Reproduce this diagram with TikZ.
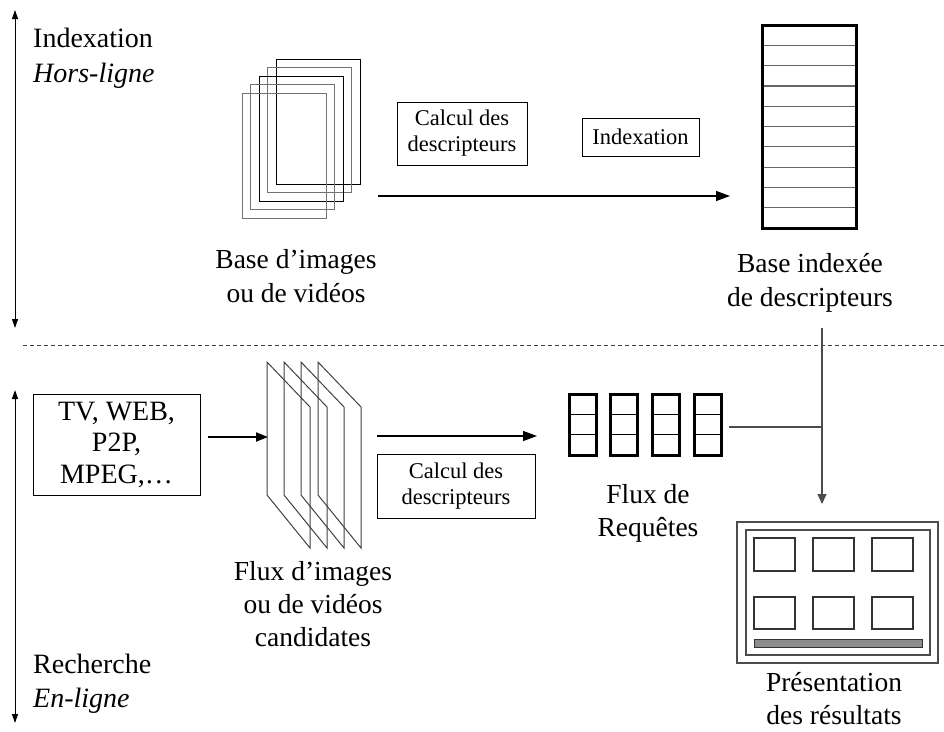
\documentclass[tikz,border=0pt]{standalone}
\usepackage{fontspec}
\setmainfont{Liberation Serif}
\usetikzlibrary{arrows.meta}

\begin{document}
\begin{tikzpicture}[x=1pt,y=-1pt,
  lbl/.style={font=\fontsize{27.5}{34}\selectfont, anchor=base, inner sep=0pt},
  side/.style={font=\fontsize{28}{34}\selectfont, anchor=base west, inner sep=0pt},
  txtbox/.style={draw, line width=0.9pt, font=\fontsize{22.5}{26}\selectfont, align=center, inner sep=0pt},
  flow/.style={line width=1.3pt, -{Triangle[length=14pt,width=10pt]}},
  span/.style={line width=1pt, {Triangle[length=9pt,width=6pt]}-{Triangle[length=9pt,width=6pt]}},
  frameA/.style={draw=black!55, line width=1pt},
  frameB/.style={draw=black, line width=1pt},
  slant/.style={draw=black!75, line width=1pt},
  cell/.style={draw=black, line width=3pt},
  link/.style={draw=black!70, line width=1.2pt}
]
\useasboundingbox (0,0) rectangle (944,731);

% ---- phase markers ----
\coordinate (ut) at (15,10);
\coordinate (ub) at (15,328);
\draw[span] (ut) -- (ub);
\node[side] (idx) at (33,47) {Indexation};
\node[side] (hl) at (33,82) {\itshape Hors-ligne};

\coordinate (lt) at (15,390);
\coordinate (lb) at (15,723);
\draw[span] (lt) -- (lb);
\node[side] (rech) at (33,673) {Recherche};
\node[side] (el) at (33,707) {\itshape En-ligne};

\coordinate (dl) at (23,345);
\coordinate (dr) at (944,345);
\draw[black!75, line width=1pt, dash pattern=on 4pt off 3pt] (dl) -- (dr);

% ---- offline: image base (stack of frames) ----
\foreach \i/\st in {4/frameB,3/frameA,2/frameB,1/frameA,0/frameA}{
  \draw[\st] ({242+8.5*\i},{93-8.5*\i}) rectangle ++(84,125);
}
\node[lbl] (baseimgA) at (296,268) {Base d’images};
\node[lbl] (baseimgB) at (296,302) {ou de vidéos};

\node[txtbox, minimum width=130pt, minimum height=63pt] (calc1) at (462,133.5) {Calcul des\\descripteurs};
\node[txtbox, minimum width=117pt, minimum height=38pt] (indx) at (640.5,137) {Indexation};

\coordinate (a1s) at (378,196);
\coordinate (a1e) at (730,196);
\draw[flow] (a1s) -- (a1e);

% ---- indexed descriptor base ----
\foreach \k in {1,...,9}{
  \draw[black!60, line width=1.2pt] (762,{25+20.3*\k}) -- (856,{25+20.3*\k});
}
\node[draw=black, line width=3pt, minimum width=94pt, minimum height=203pt, inner sep=0pt] (idxbase) at (809,126.5) {};
\node[lbl] (idxlblA) at (810,272) {Base indexée};
\node[lbl] (idxlblB) at (810,306) {de descripteurs};

% ---- online: sources ----
\node[txtbox, font=\fontsize{28}{31.5}\selectfont, minimum width=167pt, minimum height=101pt] (src) at (116.5,444.5) {TV, WEB,\\P2P,\\MPEG,…};

% ---- candidate frames (slanted) ----
\foreach \i in {0,...,3}{
  \draw[slant] ({267+17*\i},362) -- ({310+17*\i},407) -- ({310+17*\i},548) -- ({267+17*\i},495) -- cycle;
}
\coordinate (fl) at (268,437);
\draw[line width=2pt, -{Triangle[length=12pt,width=9pt]}] (src.east |- fl) ++(8,0) coordinate (srcout) -- (fl);
\node[lbl] (fluxA) at (313,580) {Flux d’images};
\node[lbl] (fluxB) at (313,613) {ou de vidéos};
\node[lbl] (fluxC) at (313,646) {candidates};

\coordinate (a2s) at (377,436);
\coordinate (a2e) at (537,436);
\draw[flow] (a2s) -- (a2e);
\node[txtbox, minimum width=158pt, minimum height=64pt] (calc2) at (456,486) {Calcul des\\descripteurs};

% ---- query stream ----
\foreach \i in {0,...,3}{
  \draw[black, line width=1.2pt] ({569+41.7*\i},414.3) -- ++(27,0);
  \draw[black, line width=1.2pt] ({569+41.7*\i},434.7) -- ++(27,0);
  \draw[cell] ({569+41.7*\i},394) rectangle ++(27,61);
}
\node[lbl] (reqA) at (648,503) {Flux de};
\node[lbl] (reqB) at (648,536) {Requêtes};

% ---- merge into result display ----
\coordinate (qout) at (729,427);
\coordinate (join) at (822,427);
\coordinate (vtop) at (822,328);
\coordinate (vend) at (822,504);
\draw[link] (qout) -- (join);
\draw[link, -{Triangle[length=10pt,width=9pt]}] (vtop) -- (vend);

\draw[black!70, line width=1.2pt] (737,522) rectangle (938,663);
\draw[black!70, line width=1.2pt] (746,530) rectangle (930,655);
\foreach \x in {754,813,872}{
  \draw[black!80, line width=1.1pt] (\x,538) rectangle ++(41,33);
  \draw[black!80, line width=1.1pt] (\x,597) rectangle ++(41,32);
}
\draw[black!80, fill=black!45, line width=1pt] (754,639) rectangle (922,647);
\node[lbl] (presA) at (834,691) {Présentation};
\node[lbl] (presB) at (834,724) {des résultats};
\end{tikzpicture}
\end{document}
